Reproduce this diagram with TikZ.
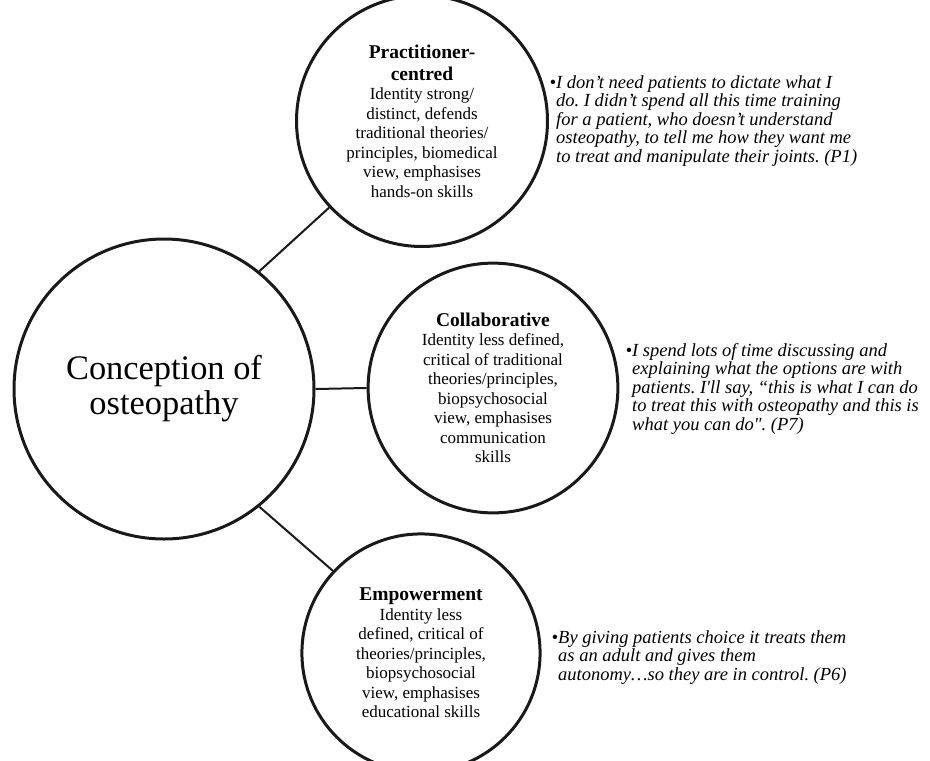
\documentclass[tikz,border=0pt]{standalone}
\usepackage{fontspec}
\setmainfont{Liberation Serif}
\newfontfamily\qfont{Liberation Serif}[Ligatures=TeXOff]
\frenchspacing
\newcommand\cirtext[2]{\parbox{200pt}{\centering{\fontsize{19.5}{22}\selectfont\bfseries #1\par}\fontsize{17}{19.5}\selectfont #2\par}}
\begin{document}
\begin{tikzpicture}[x=1pt,y=-1pt,
  circ/.style={circle, draw=black!90, line width=3pt, inner sep=0pt, align=center},
  link/.style={line width=2pt, draw=black!90},
  quote/.style={anchor=north west, align=left, inner sep=0pt, font=\qfont\itshape\fontsize{18.5}{18.5}\selectfont},
]
\useasboundingbox (0,0) rectangle (930,761);
\node[circ, minimum size=300pt, font=\fontsize{34.4}{35}\selectfont] (core) at (164,389) {Conception of\\osteopathy};
\node[circ, minimum size=218pt] (prac) at (422,121) {\cirtext{Practitioner-\\centred}{Identity strong/\\distinct, defends\\traditional theories/\\principles, biomedical\\view, emphasises\\hands-on skills}};
\node[circ, minimum size=220pt] (coll) at (493,388) {\cirtext{Collaborative}{Identity less defined,\\critical of traditional\\theories/principles,\\biopsychosocial\\view, emphasises\\communication\\skills}};
\node[circ, minimum size=216pt] (emp) at (421,653) {\cirtext{Empowerment}{Identity less\\defined, critical of\\theories/principles,\\biopsychosocial\\view, emphasises\\educational skills}};
\draw[link] (core.51) -- (prac.223);
\draw[link] (core.east) -- (coll.west);
\draw[link] (core.-51) -- (emp.137);
\node[quote] (q1) at (556,75) {\llap{•}I don’t need patients to dictate what I\\do. I didn’t spend all this time training\\for a patient, who doesn’t understand\\osteopathy, to tell me how they want me\\to treat and manipulate their joints. (P1)};
\node[quote] (q7) at (632,343) {\llap{•}I spend lots of time discussing and\\explaining what the options are with\\patients. I'll say, “this is what I can do\\to treat this with osteopathy and this is\\what you can do". (P7)};
\node[quote] (q6) at (558,630) {\llap{•}By giving patients choice it treats them\\as an adult and gives them\\autonomy…so they are in control. (P6)};
\end{tikzpicture}
\end{document}
